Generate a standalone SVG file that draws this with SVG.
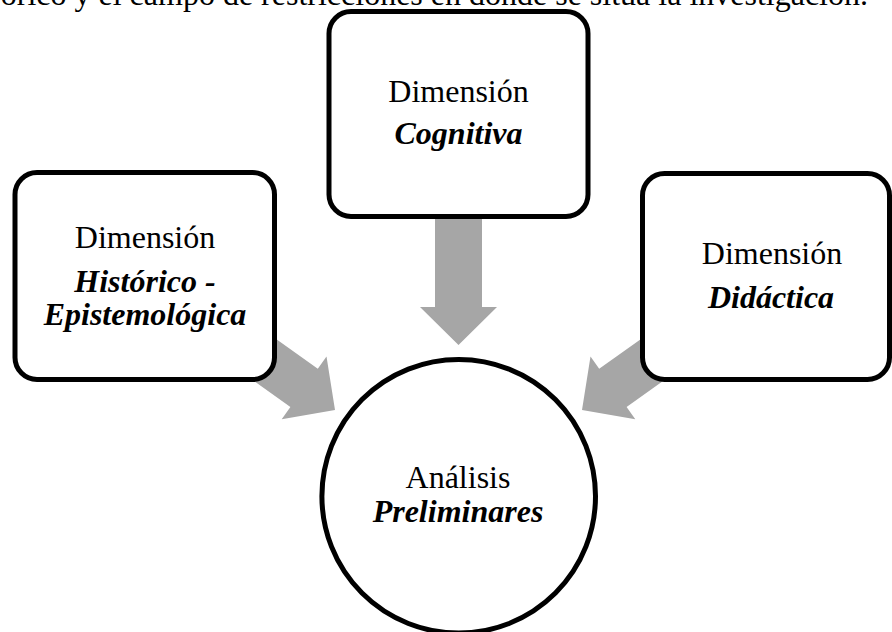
<svg xmlns="http://www.w3.org/2000/svg" width="892" height="632" viewBox="0 0 892 632">
  <style>
    .bg { fill: #ffffff; }
    .box { fill: #ffffff; stroke: #000000; stroke-width: 5; }
    .arrow { fill: #a6a6a6; stroke: none; }
    .t { font-family: "Liberation Serif", "Times New Roman", serif; font-size: 32px; fill: #000000; text-anchor: middle; }
    .bi { font-weight: bold; font-style: italic; }
    .top { font-family: "Liberation Serif", "Times New Roman", serif; font-size: 32px; fill: #000000; text-anchor: end; }
  </style>
  <rect class="bg" x="0" y="0" width="892" height="632"/>
  <text class="top" x="868" y="5">teórico y el campo de restricciones en donde se sitúa la investigación.</text>

  <g id="connectors">
    <polygon class="arrow" points="435,200 482,200 482,307 497,307 458.5,345 420,307 435,307"/>
    <polygon class="arrow" points="226.7,303.9 317.8,368.8 326.5,356.6 335,410 281.7,419.2 290.4,407 199.3,342.1"/>
    <polygon class="arrow" points="690.3,303.9 599.2,368.8 590.5,356.6 582,410 635.3,419.2 626.6,407 717.7,342.1"/>
  </g>

  <g id="node-cognitiva">
    <rect class="box" x="329" y="11.5" width="259" height="205" rx="22" ry="22"/>
    <text class="t" x="458.5" y="101.5">Dimensión</text>
    <text class="t bi" x="458.5" y="144">Cognitiva</text>
  </g>

  <g id="node-historico">
    <rect class="box" x="15" y="172.5" width="259.5" height="207" rx="22" ry="22"/>
    <text class="t" x="145" y="247.5">Dimensión</text>
    <text class="t bi" x="145" y="291.5">Histórico -</text>
    <text class="t bi" x="145" y="325">Epistemológica</text>
  </g>

  <g id="node-didactica">
    <rect class="box" x="642.5" y="173.5" width="247" height="206" rx="22" ry="22"/>
    <text class="t" x="772" y="263.5">Dimensión</text>
    <text class="t bi" x="771" y="308">Didáctica</text>
  </g>

  <g id="node-analisis">
    <circle class="box" cx="458.7" cy="496.3" r="136.8"/>
    <text class="t" x="458" y="488">Análisis</text>
    <text class="t bi" x="458" y="522">Preliminares</text>
  </g>
</svg>
